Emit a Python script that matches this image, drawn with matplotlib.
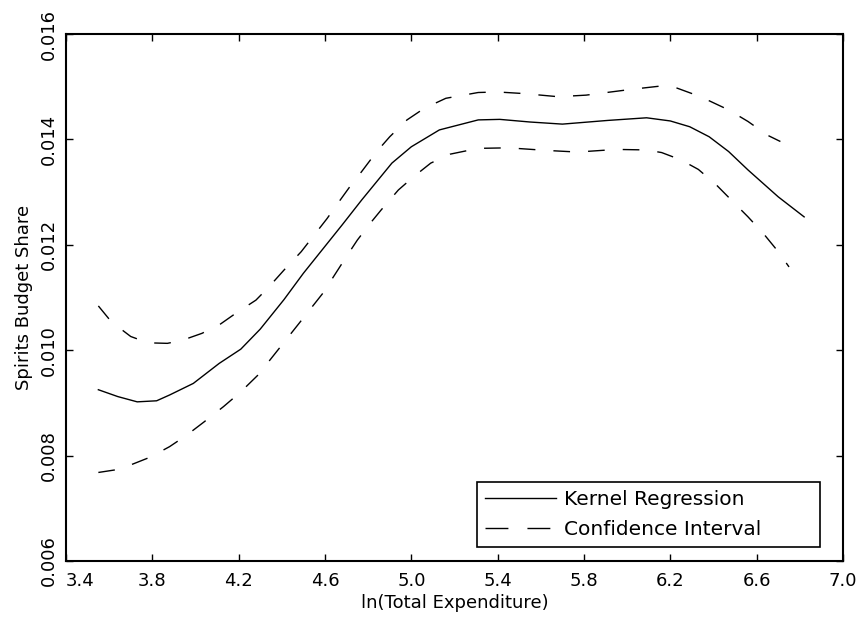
import numpy as np
import matplotlib
matplotlib.use("Agg")
import matplotlib.pyplot as plt

# kernel regression estimate of the spirits budget share
x_kernel = [3.55, 3.64, 3.73, 3.82, 3.88, 3.99, 4.11, 4.21, 4.30, 4.41,
            4.50, 4.59, 4.68, 4.77, 4.91, 5.00, 5.13, 5.31, 5.41, 5.55,
            5.70, 5.91, 6.09, 6.20, 6.29, 6.38, 6.47, 6.56, 6.70, 6.82]
y_kernel = [0.00925, 0.00912, 0.00902, 0.00904, 0.00915, 0.00937, 0.00975,
            0.01002, 0.01040, 0.01096, 0.01146, 0.01192, 0.01238, 0.01285,
            0.01355, 0.01386, 0.01418, 0.01437, 0.01438, 0.01433, 0.01429,
            0.01436, 0.01441, 0.01435, 0.01424, 0.01405, 0.01377, 0.01342,
            0.01291, 0.01253]

# upper confidence band
x_upper = [3.55, 3.61, 3.70, 3.78, 3.87, 3.94, 4.03, 4.11, 4.19, 4.28,
           4.34, 4.41, 4.49, 4.61, 4.66, 4.72, 4.77, 4.84, 4.90, 4.98,
           5.06, 5.16, 5.31, 5.40, 5.52, 5.68, 5.81, 6.02, 6.15, 6.22,
           6.34, 6.47, 6.56, 6.65, 6.71]
y_upper = [0.01084, 0.01054, 0.01026, 0.01014, 0.01013, 0.01019, 0.01032,
           0.01048, 0.01071, 0.01095, 0.01120, 0.01152, 0.01187, 0.01250,
           0.01279, 0.01313, 0.01339, 0.01377, 0.01405, 0.01437, 0.01459,
           0.01478, 0.01489, 0.01490, 0.01487, 0.01481, 0.01484, 0.01495,
           0.01501, 0.01499, 0.01481, 0.01456, 0.01434, 0.01408, 0.01396]

# lower confidence band
x_lower = [3.55, 3.63, 3.71, 3.79, 3.88, 3.96, 4.04, 4.13, 4.21, 4.29,
           4.48, 4.59, 4.70, 4.75, 4.81, 4.86, 4.94, 5.01, 5.09, 5.18,
           5.31, 5.45, 5.63, 5.77, 5.95, 6.09, 6.16, 6.25, 6.33, 6.41,
           6.48, 6.56, 6.63, 6.70, 6.75]
y_lower = [0.00768, 0.00773, 0.00784, 0.00797, 0.00817, 0.00839, 0.00864,
           0.00893, 0.00921, 0.00953, 0.01051, 0.01108, 0.01178, 0.01209,
           0.01241, 0.01266, 0.01304, 0.01329, 0.01355, 0.01372, 0.01383,
           0.01384, 0.01379, 0.01376, 0.01381, 0.01380, 0.01375, 0.01361,
           0.01343, 0.01315, 0.01286, 0.01253, 0.01222, 0.01187, 0.01158]

x_ticks = [3.4, 3.8, 4.2, 4.6, 5.0, 5.4, 5.8, 6.2, 6.6, 7.0]
x_ticklabels = ["3.4", "3.8", "4.2", "4.6", "5.0", "5.4", "5.8", "6.2", "6.6", "7.0"]
y_ticks = [0.006, 0.008, 0.010, 0.012, 0.014, 0.016]
y_ticklabels = ["0.006", "0.008", "0.010", "0.012", "0.014", "0.016"]

plt.rcParams["font.family"] = ["DejaVu Sans"]
plt.rcParams["font.size"] = 13

fig = plt.figure(figsize=(8.58, 6.25), dpi=100)
ax = fig.add_axes([0.0769, 0.1024, 0.9056, 0.8432])

ax.plot(x_kernel, y_kernel, color="black", lw=1.0, label="Kernel Regression")
ax.plot(x_upper, y_upper, color="black", lw=1.0, dashes=(12, 13),
        label="Confidence Interval")
ax.plot(x_lower, y_lower, color="black", lw=1.0, dashes=(12, 13))

ax.set_xlim(3.4, 7.0)
ax.set_ylim(0.006, 0.016)
ax.set_xticks(x_ticks)
ax.set_xticklabels(x_ticklabels)
ax.set_yticks(y_ticks)
ax.set_yticklabels(y_ticklabels)

ax.tick_params(direction="in", length=5, width=1, top=True, right=True,
               labelsize=13)
ax.tick_params(axis="x", pad=8)
ax.tick_params(axis="y", pad=6, labelrotation=90)
for lab in ax.get_yticklabels():
    lab.set_verticalalignment("center")
# first x label sits inside the corner so it clears the y labels
ax.get_xticklabels()[0].set_horizontalalignment("left")

for s in ax.spines.values():
    s.set_linewidth(1.5)

ax.set_xlabel("ln(Total Expenditure)", fontsize=13, labelpad=3)
ax.set_ylabel("Spirits Budget Share", fontsize=13, labelpad=5)

leg = ax.legend(loc="lower left", bbox_to_anchor=(0.529, 0.027, 0.4414, 0.13),
                mode="expand", borderaxespad=0, handlelength=3.5,
                handletextpad=0.4, fancybox=False, frameon=True,
                edgecolor="black", framealpha=1, fontsize=14.5,
                borderpad=0.4, labelspacing=0.55)
leg.get_frame().set_linewidth(1.2)
leg.get_lines()[1].set_dashes((16.5, 13.7))

fig.savefig("out.png", dpi=100)
